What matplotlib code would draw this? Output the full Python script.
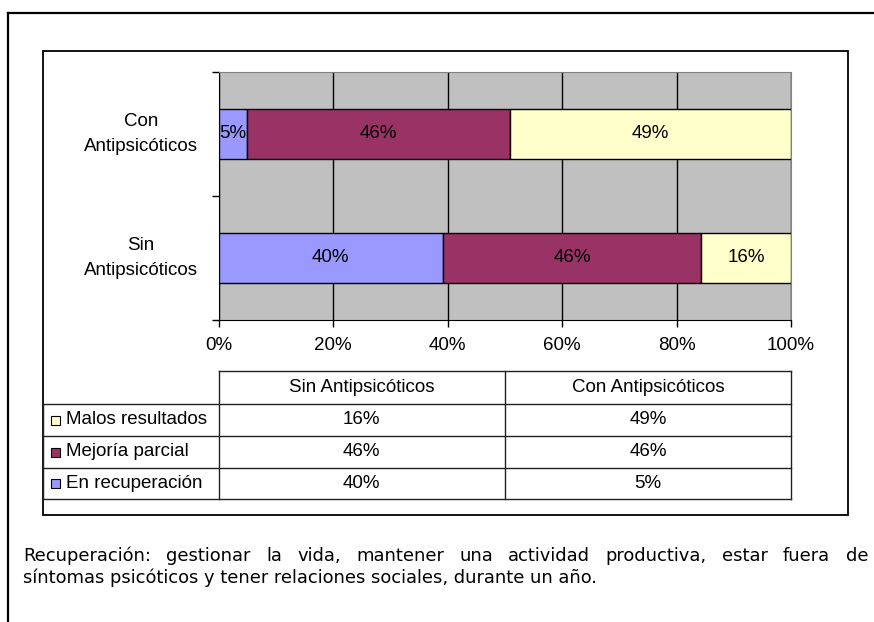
import matplotlib.pyplot as plt
from matplotlib.patches import Rectangle
from matplotlib.transforms import blended_transform_factory
import numpy as np

W, H = 874, 622

groups = ["Sin Antipsicóticos", "Con Antipsicóticos"]
group_ticks = ["Sin\nAntipsicóticos", "Con\nAntipsicóticos"]
series = ["En recuperación", "Mejoría parcial", "Malos resultados"]
sin_vals = [40, 46, 16]
con_vals = [5, 46, 49]
colors = ["#9999FF", "#993366", "#FFFFCC"]
x_ticks = [0, 0.2, 0.4, 0.6, 0.8, 1.0]
x_labels = ["0%", "20%", "40%", "60%", "80%", "100%"]
caption_1 = "Recuperación: gestionar la vida, mantener una actividad productiva, estar fuera de"
caption_2 = "síntomas psicóticos y tener relaciones sociales, durante un año."

plt.rcParams['font.family'] = ['Liberation Sans', 'DejaVu Sans']
FS = 13.5

fig = plt.figure(figsize=(W / 100, H / 100), dpi=100)


def fx(x):
    return x / W


def fy(y):
    return 1 - y / H


# overlay in pixel coords for frames, table and caption
ov = fig.add_axes([0, 0, 1, 1], zorder=0)
ov.set_xlim(0, W)
ov.set_ylim(H, 0)
ov.axis('off')

# outer frame (only top / left edges are inside the picture)
ov.plot([8, W], [12.5, 12.5], color='black', lw=1.6)
ov.plot([8, 8], [12.5, H], color='black', lw=1.6)
# chart frame
ov.add_patch(Rectangle((42.5, 51), 848 - 42.5, 515 - 51, fill=False, ec='black', lw=1.3))

# bar chart
ax = fig.add_axes([fx(218.5), fy(320), fx(791) - fx(218.5), fy(72) - fy(320)], zorder=2)
ax.set_facecolor('#C0C0C0')
data = np.array([sin_vals, con_vals], dtype=float)
shares = data / data.sum(axis=1, keepdims=True)
ypos = np.arange(len(groups))
left = np.zeros(len(groups))
for i, name in enumerate(series):
    bars = ax.barh(ypos, shares[:, i], left=left, height=0.4, color=colors[i],
                   edgecolor='black', linewidth=1, zorder=3, label=name)
    ax.bar_label(bars, labels=[f"{v:.0f}%" for v in data[:, i]],
                 label_type='center', fontsize=FS)
    left += shares[:, i]

ax.set_xlim(0, 1)
ax.set_ylim(-0.5, 1.5)
ax.set_xticks(x_ticks)
ax.set_xticklabels(x_labels, fontsize=FS)
ax.tick_params(axis='x', length=5, width=1, pad=7.5, direction='out')
ax.set_yticks([-0.5, 0.5, 1.5])
ax.set_yticklabels([])
ax.tick_params(axis='y', which='major', length=5, width=1, direction='out')

# category labels, centred block left of the axis
lab_tr = blended_transform_factory(ax.transAxes, ax.transData)
for y, lab in zip(ypos, group_ticks):
    ax.text(-0.135, y, lab, transform=lab_tr, ha='center', va='center',
            multialignment='center', linespacing=1.6, fontsize=FS)

ax.grid(axis='x', color='black', lw=1)
ax.set_axisbelow(True)
for s in ['left', 'bottom']:
    ax.spines[s].set_color('black')
for s in ['top', 'right']:
    ax.spines[s].set_color('#808080')

# data table
col_x = [42.5, 218.5, 505, 791]
row_y = [371, 404, 436, 468, 499]
line_c = '#202020'
ov.plot([col_x[1], col_x[3]], [row_y[0], row_y[0]], color=line_c, lw=1)
for y in row_y[1:]:
    ov.plot([col_x[0], col_x[3]], [y, y], color=line_c, lw=1)
for x in col_x[1:]:
    ov.plot([x, x], [row_y[0], row_y[-1]], color=line_c, lw=1)
ov.plot([col_x[0], col_x[0]], [row_y[1], row_y[-1]], color=line_c, lw=1)

for j, g in enumerate(groups):
    ov.text((col_x[j + 1] + col_x[j + 2]) / 2, (row_y[0] + row_y[1]) / 2, g,
            ha='center', va='center', fontsize=FS)

table_rows = list(range(len(series)))[::-1]
for r, si in enumerate(table_rows):
    yc = (row_y[r + 1] + row_y[r + 2]) / 2
    ov.add_patch(Rectangle((51, yc - 4.5), 9, 9, fc=colors[si], ec='black', lw=0.8))
    ov.text(66, yc, series[si], ha='left', va='center', fontsize=FS)
    for j, vals in enumerate([sin_vals, con_vals]):
        ov.text((col_x[j + 1] + col_x[j + 2]) / 2, yc, f"{vals[si]}%",
                ha='center', va='center', fontsize=FS)

# caption, first line justified
CFS = 12.9
renderer = fig.canvas.get_renderer()
words = caption_1.split()
tw = [ov.text(0, 561, w, fontsize=CFS, family='DejaVu Sans', va='baseline') for w in words]
widths = [t.get_window_extent(renderer).width for t in tw]
gap = (868 - 23 - sum(widths)) / (len(words) - 1)
x = 23
for t, w in zip(tw, widths):
    t.set_x(x)
    x += w + gap
ov.text(23, 583, caption_2, fontsize=CFS, family='DejaVu Sans', va='baseline')

fig.savefig('out.png', dpi=100)
